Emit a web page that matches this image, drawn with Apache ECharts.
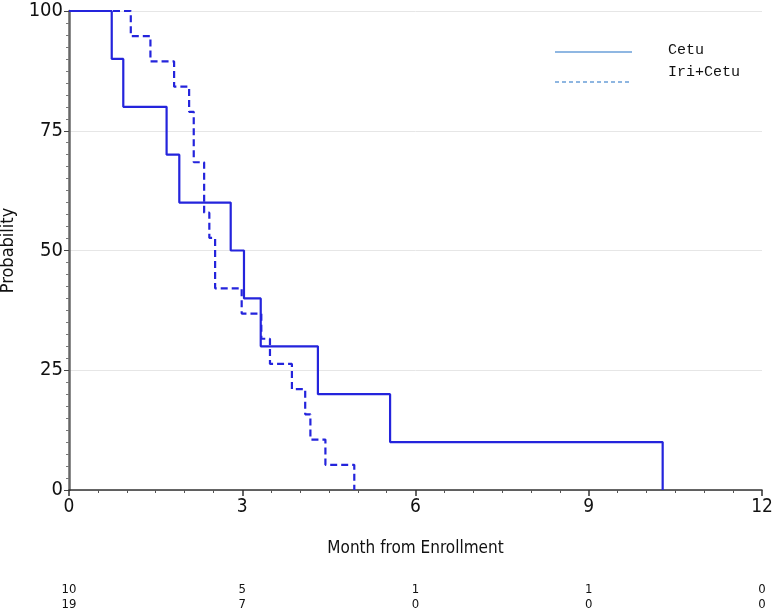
<!DOCTYPE html>
<html>
<head>
<meta charset="utf-8">
<script src="https://cdn.jsdelivr.net/npm/echarts@6/dist/echarts.min.js"></script>
<style>html,body{margin:0;padding:0;background:#fff}#c{width:774px;height:615px}</style>
</head>
<body>
<div id="c"></div>
<script>
// Kaplan-Meier step data: [month, probability %]
var cetuTimes = [0, 0.74, 0.94, 1.69, 1.91, 2.80, 3.03, 3.32, 4.31, 5.56, 10.28];
var cetuProb  = [100, 90, 80, 70, 60, 50, 40, 30, 20, 10, 0];
var iriTimes  = [0, 1.07, 1.41, 1.82, 2.08, 2.16, 2.34, 2.43, 2.53, 2.99, 3.33, 3.48, 3.86, 4.09, 4.18, 4.44, 4.94];
var iriProb   = [100, 94.74, 89.47, 84.21, 78.95, 68.42, 57.89, 52.63, 42.11, 36.84, 31.58, 26.32, 21.05, 15.79, 10.53, 5.26, 0];
var seriesNames = ['Cetu', 'Iri+Cetu'];
var xTicks = [0, 3, 6, 9, 12];
var yTicks = [0, 25, 50, 75, 100];
var atRiskCetu = [10, 5, 1, 1, 0];
var atRiskIri  = [19, 7, 0, 0, 0];

var FONT = '"Liberation Sans Narrow", "DejaVu Sans Condensed", sans-serif';
var LINE = '#2424dc';
var LEG = '#6a9fd8';

function pairs(t, p) { return t.map(function (v, i) { return [v, p[i]]; }); }

var chart = echarts.init(document.getElementById('c'), null, {renderer: 'canvas'});

function riskAxis(arr, offset) {
  return {
    type: 'value', min: 0, max: 12, interval: 3, position: 'bottom', offset: offset,
    axisLine: {show: false}, axisTick: {show: false}, splitLine: {show: false},
    axisLabel: {
      fontFamily: FONT, fontSize: 13, color: '#111', margin: 4,
      formatter: function (v) { var i = xTicks.indexOf(v); return i >= 0 ? String(arr[i]) : ''; }
    }
  };
}

chart.setOption({
  animation: false,
  backgroundColor: '#fff',
  grid: {left: 69, right: 12, top: 11, bottom: 125, containLabel: false, outerBoundsMode: 'none'},
  xAxis: [
    {
      type: 'value', min: 0, max: 12, interval: 3,
      name: 'Month from Enrollment', nameLocation: 'middle', nameGap: 50,
      nameTextStyle: {fontFamily: FONT, fontSize: 17, color: '#111'},
      axisLine: {lineStyle: {color: '#333', width: 1.5}, onZero: false},
      axisTick: {show: true, length: 6, lineStyle: {color: '#333', width: 1.5}},
      minorTick: {show: true, splitNumber: 6, length: 3, lineStyle: {color: '#555'}},
      splitLine: {show: false},
      axisLabel: {fontFamily: FONT, fontSize: 19, color: '#111', margin: 8}
    },
    riskAxis(atRiskCetu, 89),
    riskAxis(atRiskIri, 104)
  ],
  yAxis: {
    type: 'value', min: 0, max: 100, interval: 25,
    name: 'Probability', nameLocation: 'middle', nameGap: 47,
    nameTextStyle: {fontFamily: FONT, fontSize: 18, color: '#111'},
    axisLine: {show: true, lineStyle: {color: '#666', width: 2.5}},
    axisTick: {show: true, length: 5, lineStyle: {color: '#444'}},
    minorTick: {show: true, splitNumber: 10, length: 3, lineStyle: {color: '#777'}},
    splitLine: {show: true, lineStyle: {color: '#e6e6e6', width: 1}},
    axisLabel: {fontFamily: FONT, fontSize: 20, color: '#111', margin: 6}
  },
  series: [
    {
      name: seriesNames[0], type: 'line', step: 'end', xAxisIndex: 0,
      data: pairs(cetuTimes, cetuProb), showSymbol: false, symbol: 'none',
      lineStyle: {color: LINE, width: 2.2}, z: 3
    },
    {
      name: seriesNames[1], type: 'line', step: 'end', xAxisIndex: 0,
      data: pairs(iriTimes, iriProb), showSymbol: false, symbol: 'none',
      lineStyle: {color: LINE, width: 2.2, type: [7, 4]}, z: 2
    }
  ],
  graphic: [
    {type: 'line', shape: {x1: 555, y1: 52, x2: 632, y2: 52}, style: {stroke: LEG, lineWidth: 1.5}},
    {type: 'line', shape: {x1: 555, y1: 82, x2: 632, y2: 82}, style: {stroke: LEG, lineWidth: 1.5, lineDash: [4, 3]}},
    {type: 'text', left: 668, top: 43, style: {text: seriesNames[0], font: '15px "Liberation Mono", monospace', fill: '#111'}},
    {type: 'text', left: 668, top: 65, style: {text: seriesNames[1], font: '15px "Liberation Mono", monospace', fill: '#111'}}
  ]
});
</script>
</body>
</html>
